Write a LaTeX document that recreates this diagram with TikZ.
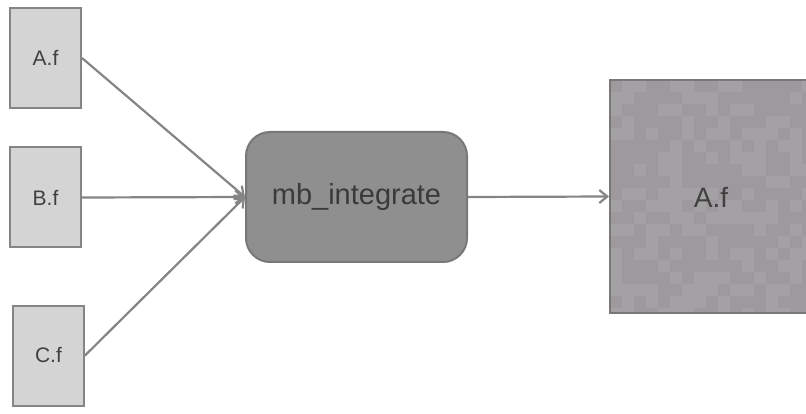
\documentclass[tikz,border=0pt]{standalone}
\usepackage{fontspec}
\setmainfont{Liberation Sans}
\usetikzlibrary{arrows.meta}
\definecolor{smallfill}{HTML}{D4D4D4}
\definecolor{edgegrey}{HTML}{858585}
\definecolor{procfill}{HTML}{8F8F8F}
\definecolor{bigfill}{HTML}{9D999D}
\definecolor{bigalt}{HTML}{A4A1A4}
\definecolor{txt}{HTML}{404040}
\tikzset{
  srcbox/.style={draw=edgegrey, line width=2pt, fill=smallfill, minimum width=71pt, minimum height=100pt, inner sep=0pt, text=txt, font=\fontsize{21}{24}\selectfont},
  procbox/.style={draw=edgegrey!90!black, line width=2pt, fill=procfill, rounded corners=24pt, minimum width=221pt, minimum height=130pt, inner sep=0pt, text=txt!90!black, font=\fontsize{29}{32}\selectfont},
  bigbox/.style={draw=edgegrey!90!black, line width=2pt, minimum width=206pt, minimum height=233pt, inner sep=0pt},
  conn/.style={draw=edgegrey, line width=2.2pt, -{Straight Barb[length=8pt,width=13pt,line width=2.2pt]}}
}
\begin{document}
\begin{tikzpicture}[x=1pt,y=-1pt]
\useasboundingbox[fill=white] (0,0) rectangle (806,414);
\clip (0,0) rectangle (806,414);
\node[srcbox] (a) at (45.5,58) {A.f};
\node[srcbox] (b) at (45.5,197.5) {B.f};
\node[srcbox] (c) at (48.5,355.5) {C.f};
\node[procbox] (m) at (356.5,197) {mb\_integrate};
% big output box with mottled fill
\begin{scope}
\clip (610,80) rectangle (816,313);
\fill[bigfill] (610,80) rectangle (816,313);
\pgfmathsetseed{7}
\foreach \i in {0,...,16} {
  \foreach \j in {0,...,19} {
    \pgfmathsetmacro{\r}{rnd}
    \ifdim\r pt<0.4pt
      \fill[bigalt] ({610+\i*12},{80+\j*12}) rectangle ++(12,12);
    \fi
  }
}
\end{scope}
\node[bigbox] (o) at (713,196.5) {};
\node[text=txt, font=\fontsize{28}{32}\selectfont] (ol) at (711,197) {A.f};
\draw[conn] (a.east) -- (m.west);
\draw[conn] (b.east) -- (m.west);
\draw[conn] (c.east) -- (m.west);
\draw[conn] (m.east) -- (o.west);
\end{tikzpicture}
\end{document}
